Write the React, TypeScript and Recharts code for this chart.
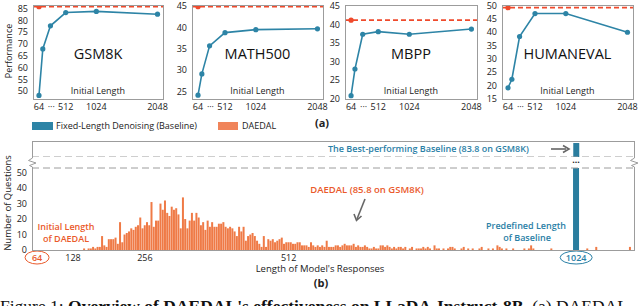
import React from "react";
import { Bar, ComposedChart, Line, ReferenceLine, XAxis, YAxis } from "recharts";

const BLUE = "#2d84a6";
const BAR_BLUE = "#2a7d9e";
const RED = "#ef4a2c";
const ORANGE = "#ef7a46";
const ORANGE_TEXT = "#ea5a2b";
const BLUE_TEXT = "#2a80a6";
const FRAME = "#9c9c9c";
const ARROW = "#666666";
const INK = "#222222";
const FONT = "'Open Sans', sans-serif";

// (a) performance vs initial length
const INITIAL_LENGTHS = [64, 128, 256, 512, 1024, 2048];
const LINE_TICKS = [64, 270, 512, 1024, 2048];
const ELLIPSIS_TICK = 270;
const BENCHMARKS = ["GSM8K", "MATH500", "MBPP", "HUMANEVAL"];
const GSM8K_BASE = [48.2, 67.9, 77.7, 83.3, 83.8, 82.6];
const MATH500_BASE = [24.1, 29.1, 35.7, 38.8, 39.5, 39.7];
const MBPP_BASE = [20.8, 28.0, 37.4, 38.1, 37.4, 38.8];
const HUMANEVAL_BASE = [19.2, 22.4, 38.4, 47.0, 47.0, 40.0];
const DAEDAL_SCORES = [85.8, 44.9, 41.2, 49.2];

// (b) distribution of response lengths on GSM8K
const HIST_START = 148;
const HIST_STEP = 4;
const DAEDAL_COUNTS = [
  1, 0, 1, 1, 2, 1, 2, 2, 9, 3,
  2, 7, 7, 7, 8, 4, 18, 5, 10, 11,
  12, 14, 13, 15, 16, 21, 14, 16, 18, 16,
  31, 15, 19, 19, 30, 26, 32, 24, 22, 28,
  26, 27, 23, 14, 34, 20, 14, 19, 24, 19,
  24, 21, 16, 18, 13, 19, 15, 18, 15, 15,
  17, 17, 18, 15, 14, 15, 14, 12, 9, 15,
  12, 15, 6, 9, 10, 11, 9, 6, 4, 2,
  9, 2, 7, 6, 7, 5, 6, 7, 8, 4,
  5, 5, 5, 4, 4, 5, 5, 3, 3, 3,
  2, 5, 3, 2, 3, 2, 3, 2, 6, 2,
  2, 2, 3, 3, 2, 3, 4, 3, 3, 3,
  4, 2, 3, 2, 2, 3, 2, 1, 1, 2,
  1, 1, 3, 3, 2, 3, 2, 1, 2, 1,
  2, 2, 1, 2, 0, 1, 2, 0, 1, 1,
  1, 2, 1, 2, 1, 0, 3, 1, 1, 0,
  1, 0, 1, 2, 2, 1, 0, 0, 1, 2,
  0, 1, 0, 1, 0, 0, 1, 2, 0, 0,
  1, 0, 1, 0, 3, 2, 1, 0, 1, 0,
  0, 1, 0, 0, 0, 0, 1, 0, 1, 3,
  1, 0, 0, 0, 0, 0, 0, 0, 1, 0,
  0, 0, 0, 0, 0, 0, 0, 0, 0, 0,
  0, 0, 0, 0, 1, 0, 0, 0, 2, 0,
  0, 0, 0, 0, 0, 0, 0, 0, 0, 0,
  0, 0, 0, 2,
];
const BASELINE_LENGTH = 1024;
const BASELINE_COUNT = 1319;
const HIST_TICKS = [64, 128, 256, 512, 1024];
const LOW_TICKS = [0, 10, 20, 30, 40, 50];
const HIGH_TICKS = [1310];

const PANELS = [
  { values: GSM8K_BASE, domain: [46.7, 86.5], ticks: [50, 55, 60, 65, 70, 75, 80, 85], plotLeft: 33, plotW: 130, axisW: 33 },
  { values: MATH500_BASE, domain: [23.2, 45.3], ticks: [25, 30, 35, 40, 45], plotLeft: 192, plotW: 131, axisW: 22 },
  { values: MBPP_BASE, domain: [19.9, 45.3], ticks: [20, 25, 30, 35, 40, 45], plotLeft: 345, plotW: 132, axisW: 22 },
  { values: HUMANEVAL_BASE, domain: [15, 50.2], ticks: [15, 20, 25, 30, 35, 40, 45, 50], plotLeft: 502, plotW: 131, axisW: 22 },
];

const PLOT_TOP = 5;
const PLOT_BOTTOM = 99;
const SPARE_RIGHT = 14;

const tickStyle = { fontSize: 9, fill: INK, fontFamily: FONT };

function Abs({ x, y, children, style }: any) {
  return (
    <div
      style={{
        position: "absolute",
        left: x,
        top: y,
        transform: "translate(-50%, -50%)",
        whiteSpace: "nowrap",
        lineHeight: 1,
        ...style,
      }}
    >
      {children}
    </div>
  );
}

function LinePanel({ index }: { index: number }) {
  const p = PANELS[index];
  const daedal = DAEDAL_SCORES[index];
  const rows = INITIAL_LENGTHS.map((len, i) => ({
    len,
    base: p.values[i],
    daedal: i === 0 ? daedal : undefined,
  }));
  const cx = p.plotLeft + p.plotW / 2;
  return (
    <>
      <div style={{ position: "absolute", left: p.plotLeft - p.axisW, top: 0 }}>
        <ComposedChart
          width={p.axisW + p.plotW + SPARE_RIGHT}
          height={116}
          data={rows}
          margin={{ top: PLOT_TOP, right: SPARE_RIGHT, bottom: 0, left: 0 }}
        >
          <XAxis
            type="number"
            dataKey="len"
            domain={[-36, 2140]}
            allowDataOverflow
            ticks={LINE_TICKS}
            interval={0}
            tickFormatter={(v: number) => (v === ELLIPSIS_TICK ? "···" : String(v))}
            tick={tickStyle}
            tickLine={false}
            axisLine={false}
            tickSize={3}
            tickMargin={2}
            height={116 - PLOT_BOTTOM}
          />
          <YAxis
            type="number"
            domain={p.domain}
            allowDataOverflow
            ticks={p.ticks}
            interval={0}
            width={p.axisW}
            tick={tickStyle}
            tickLine={false}
            axisLine={false}
            tickSize={3}
            tickMargin={2}
          />
          <ReferenceLine y={daedal} stroke={RED} strokeWidth={1.6} strokeDasharray="5 3" />
          <Line
            dataKey="base"
            type="linear"
            stroke={BLUE}
            strokeWidth={1.6}
            dot={{ r: 2.6, fill: BLUE, stroke: BLUE, strokeWidth: 0 }}
            isAnimationActive={false}
          />
          <Line
            dataKey="daedal"
            stroke="none"
            dot={{ r: 2.6, fill: RED, stroke: RED, strokeWidth: 0 }}
            isAnimationActive={false}
          />
        </ComposedChart>
      </div>
      <div
        style={{
          position: "absolute",
          left: p.plotLeft,
          top: PLOT_TOP,
          width: p.plotW + 1,
          height: PLOT_BOTTOM - PLOT_TOP + 1,
          boxSizing: "border-box",
          border: `1px solid ${FRAME}`,
        }}
      />
      <Abs x={cx} y={54} style={{ fontSize: 14.5, color: "#111" }}>
        {BENCHMARKS[index]}
      </Abs>
      <Abs x={cx} y={90} style={{ fontSize: 9, color: INK }}>
        Initial Length
      </Abs>
    </>
  );
}

const histRows = DAEDAL_COUNTS.map((c, i) => {
  const len = HIST_START + i * HIST_STEP;
  return { len, daedal: c, baseline: len === BASELINE_LENGTH ? BASELINE_COUNT : undefined };
});

const WideBar = (props: any) => {
  const { x, y, width, height } = props;
  if (height == null || !isFinite(height)) return null;
  return <rect x={x + width / 2 - 3} y={y} width={6} height={height} fill={BAR_BLUE} />;
};

function LengthTick(props: any) {
  const { x, y, payload } = props;
  const v = payload.value;
  const cy = y + 3.5;
  if (v === 64 || v === BASELINE_LENGTH) {
    const color = v === 64 ? ORANGE_TEXT : BLUE_TEXT;
    const rx = v === 64 ? 12 : 16;
    return (
      <g>
        <ellipse cx={x} cy={cy} rx={rx} ry={6.5} fill="#fff" stroke={color} strokeWidth={1} />
        <text x={x} y={cy} dy="0.35em" textAnchor="middle" fontSize={9} fontFamily={FONT} fill={color} fontWeight={600}>
          {v}
        </text>
      </g>
    );
  }
  return (
    <text x={x} y={cy} dy="0.35em" textAnchor="middle" fontSize={9} fontFamily={FONT} fill={INK}>
      {v}
    </text>
  );
}

const HIST_DOMAIN = [55, 1127];
const DASH = "7 4";
const LOW_PAD = 6;

function Histogram() {
  return (
    <>
      <div style={{ position: "absolute", left: 0, top: 141 }}>
        <ComposedChart width={640} height={16} data={histRows} margin={{ top: 0, right: 6, bottom: 0, left: 0 }}>
          <XAxis type="number" dataKey="len" domain={HIST_DOMAIN} allowDataOverflow hide />
          <YAxis
            type="number"
            domain={[1294, 1322.6]}
            allowDataOverflow
            ticks={HIGH_TICKS}
            width={32}
            tick={tickStyle}
            tickLine={false}
            axisLine={false}
            tickSize={3}
            tickMargin={2}
          />
          <ReferenceLine y={1294} stroke={FRAME} strokeDasharray={DASH} />
          <Bar dataKey="baseline" shape={WideBar} isAnimationActive={false} />
        </ComposedChart>
      </div>
      <div style={{ position: "absolute", left: 0, top: 168 - LOW_PAD }}>
        <ComposedChart
          width={640}
          height={102 + LOW_PAD}
          data={histRows}
          margin={{ top: LOW_PAD, right: 6, bottom: 0, left: 0 }}
        >
          <XAxis
            type="number"
            dataKey="len"
            domain={HIST_DOMAIN}
            allowDataOverflow
            ticks={HIST_TICKS}
            interval={0}
            tick={<LengthTick />}
            tickLine={false}
            axisLine={false}
            tickSize={3}
            tickMargin={1}
            height={20}
          />
          <YAxis
            type="number"
            domain={[0, 53]}
            allowDataOverflow
            ticks={LOW_TICKS}
            interval={0}
            width={32}
            tick={tickStyle}
            tickLine={false}
            axisLine={false}
            tickSize={3}
            tickMargin={2}
          />
          <ReferenceLine y={53} stroke={FRAME} strokeDasharray={DASH} />
          <Bar dataKey="daedal" stackId="len" barSize={2} fill={ORANGE} isAnimationActive={false} />
          <Bar dataKey="baseline" stackId="len" shape={WideBar} isAnimationActive={false} />
        </ComposedChart>
      </div>
      <div
        style={{
          position: "absolute", left: 32, top: 141, width: 603, height: 16,
          boxSizing: "border-box", borderTop: `1px solid ${FRAME}`,
          borderLeft: `1px solid ${FRAME}`, borderRight: `1px solid ${FRAME}`,
        }}
      />
      <div
        style={{
          position: "absolute", left: 32, top: 168, width: 603, height: 83,
          boxSizing: "border-box", borderBottom: `1px solid ${FRAME}`,
          borderLeft: `1px solid ${FRAME}`, borderRight: `1px solid ${FRAME}`,
        }}
      />
    </>
  );
}

export default function App() {
  return (
    <div
      style={{
        position: "fixed", left: 0, top: 0, width: 640, height: 306,
        overflow: "hidden", background: "#fff", fontFamily: FONT, color: INK,
      }}
    >
      {PANELS.map((_, i) => (
        <LinePanel key={BENCHMARKS[i]} index={i} />
      ))}
      <Abs x={8} y={51} style={{ fontSize: 9, transform: "translate(-50%, -50%) rotate(-90deg)" }}>
        Performance
      </Abs>
      <Abs x={322} y={122} style={{ fontSize: 11, fontWeight: 700 }}>(a)</Abs>

      {/* legend */}
      <div style={{ position: "absolute", left: 32, top: 122, width: 21, height: 8, background: BLUE }} />
      <div style={{ position: "absolute", left: 56, top: 120, fontSize: 9, lineHeight: "12px", whiteSpace: "nowrap" }}>
        Fixed-Length Denoising (Baseline)
      </div>
      <div style={{ position: "absolute", left: 218, top: 122, width: 20, height: 8, background: "#f0845a" }} />
      <div style={{ position: "absolute", left: 242, top: 120, fontSize: 9, lineHeight: "12px" }}>DAEDAL</div>

      <Histogram />

      {/* break marks and arrows */}
      <svg width={640} height={306} style={{ position: "absolute", left: 0, top: 0, pointerEvents: "none" }}>
        <path d="M32.5,156 L32.5,158 L28.5,160.5 L36,163 L29.5,165.5 L32.5,167 L32.5,169" fill="#fff" stroke={FRAME} strokeWidth={1} />
        <path d="M634.5,156 L634.5,158 L630.5,160.5 L638,163 L631.5,165.5 L634.5,167 L634.5,169" fill="#fff" stroke={FRAME} strokeWidth={1} />
        <line x1={551} y1={149} x2={566} y2={149} stroke={ARROW} strokeWidth={1.6} />
        <path d="M563,145.5 L569,149 L563,152.5" fill="none" stroke={ARROW} strokeWidth={1.6} />
        <line x1={365} y1={199} x2={357} y2={219} stroke={ARROW} strokeWidth={1.6} />
        <path d="M354,214 L356.5,220.5 L361.5,216" fill="none" stroke={ARROW} strokeWidth={1.6} />
      </svg>

      <div style={{ position: "absolute", left: 328, top: 143, fontSize: 9, lineHeight: "12px", color: BLUE_TEXT, fontWeight: 600, whiteSpace: "nowrap" }}>
        The Best-performing Baseline (83.8 on GSM8K)
      </div>
      <Abs x={576} y={161} style={{ fontSize: 9, fontWeight: 700 }}>···</Abs>
      <Abs x={367} y={190} style={{ fontSize: 9.5, color: ORANGE_TEXT, fontWeight: 600 }}>
        DAEDAL (85.8 on GSM8K)
      </Abs>
      <Abs x={66} y={226} style={{ fontSize: 9, color: ORANGE_TEXT, fontWeight: 600 }}>Initial Length</Abs>
      <Abs x={66} y={238} style={{ fontSize: 9, color: ORANGE_TEXT, fontWeight: 600 }}>of DAEDAL</Abs>
      <Abs x={526} y={225} style={{ fontSize: 9, color: BLUE_TEXT, fontWeight: 600 }}>Predefined Length</Abs>
      <Abs x={527} y={237} style={{ fontSize: 9, color: BLUE_TEXT, fontWeight: 600 }}>of Baseline</Abs>
      <Abs x={8} y={203} style={{ fontSize: 9.5, transform: "translate(-50%, -50%) rotate(-90deg)" }}>
        Number of Questions
      </Abs>
      <Abs x={320} y={268.5} style={{ fontSize: 9.5 }}>Length of Model's Responses</Abs>
      <Abs x={321} y={281.5} style={{ fontSize: 11, fontWeight: 700 }}>(b)</Abs>

      <div
        style={{
          position: "absolute", left: 0, top: 297, fontSize: 17.5, lineHeight: "18px",
          fontFamily: "'Liberation Serif', serif", whiteSpace: "nowrap", color: "#111",
        }}
      >
        Figure 1: <b>Overview of DAEDAL's effectiveness on LLaDA-Instruct-8B.</b> (a) DAEDAL
      </div>
    </div>
  );
}
